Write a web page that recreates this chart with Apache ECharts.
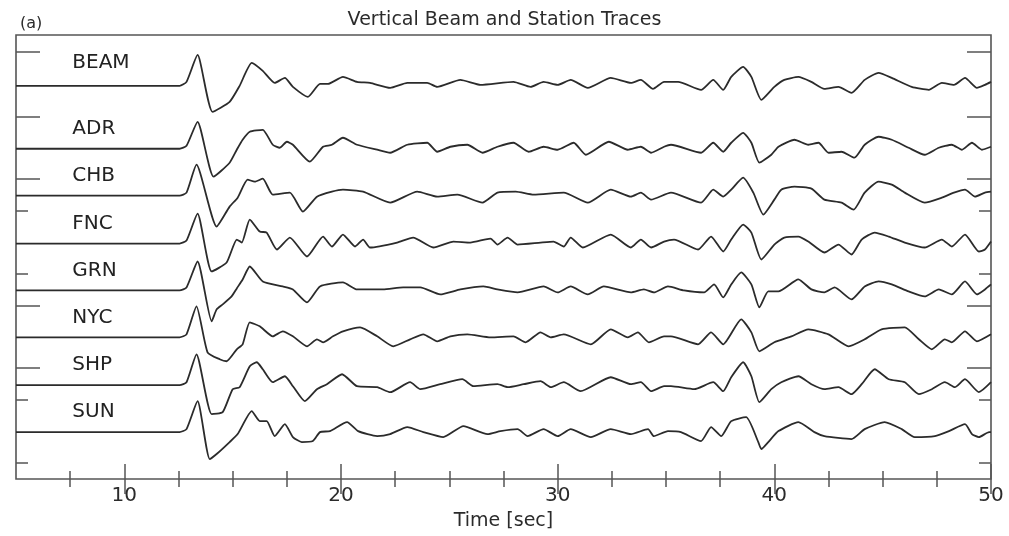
<!DOCTYPE html>
<html>
<head>
<meta charset="utf-8">
<script src="https://cdn.jsdelivr.net/npm/echarts@6/dist/echarts.min.js"></script>
<style>html,body{margin:0;padding:0;background:#fff;}#c{width:1009px;height:536px;}</style>
</head>
<body>
<div id="c"></div>
<script>
// ---- Data (time [sec], relative amplitude) ----
const stations = ['BEAM', 'ADR', 'CHB', 'FNC', 'GRN', 'NYC', 'SHP', 'SUN'];
const traceOffsets = [394, 331, 284, 236, 189, 142, 94, 47];
const xMajorTicks = [10, 20, 30, 40, 50];
const xMinorTicks = [7.5, 12.5, 15, 17.5, 22.5, 25, 27.5, 32.5, 35, 37.5, 42.5, 45, 47.5];
const yLongTicks = [428.5, 363.5, 300.5, 174, 111];
const yShortTicks = [268.5, 205.5, 79, 16];

const BEAM = [[5,0],[12.55,0],[12.87,4],[13.38,31],[14.07,-26],[14.86,-16],[15.32,0],[15.88,23],[16.39,15],[16.94,3],[17.41,8],[17.78,-1],[18.47,-11],[19.03,2],[19.4,2],[20.09,9],[20.74,4],[21.34,3],[22.27,-2],[23.06,3],[23.98,3],[24.44,-1],[25.51,6],[26.44,1],[27.96,4],[28.75,-1],[29.35,4],[30.0,1],[30.6,6],[31.39,-2],[32.45,8],[33.38,3],[33.84,6],[34.4,-3],[34.91,4],[35.56,4],[36.62,-4],[37.18,6],[37.64,-4],[38.01,9],[38.56,19],[38.94,9],[39.4,-14],[40.0,-1],[40.46,6],[41.11,9],[41.71,4],[42.31,-3],[42.96,-1],[43.56,-7],[44.17,6],[44.81,13],[45.42,8],[46.34,-1],[47.13,-4],[47.73,3],[48.29,1],[48.8,8],[49.35,-2],[49.72,1],[50,4]];
const ADR = [[5,0],[12.55,0],[12.87,3],[13.38,27],[14.12,-28],[14.86,-14],[15.19,-1],[15.46,9],[15.79,17],[16.39,19],[16.85,4],[17.18,1],[17.5,7],[17.78,4],[18.56,-13],[19.17,2],[19.58,4],[20.09,11],[20.74,4],[21.67,-1],[22.27,-4],[23.06,4],[23.98,6],[24.44,-3],[25.05,2],[25.83,4],[26.53,-4],[27.22,2],[27.96,6],[28.66,-3],[29.35,2],[30.0,-1],[30.74,6],[31.3,-6],[32.36,7],[33.24,-1],[33.84,2],[34.31,-4],[34.91,2],[35.23,4],[36.62,-4],[37.18,6],[37.64,-3],[38.01,6],[38.56,16],[38.94,6],[39.31,-14],[39.86,-6],[40.19,2],[40.93,9],[41.57,4],[42.04,6],[42.5,-4],[43.1,-3],[43.7,-9],[44.17,4],[44.81,12],[45.42,9],[46.2,1],[46.94,-6],[47.59,1],[48.19,4],[48.66,-1],[49.12,6],[49.58,-1],[50,2]];
const CHB = [[5,0],[12.55,0],[12.87,3],[13.33,31],[14.26,-31],[14.86,-11],[15.23,-2],[15.69,16],[16.02,14],[16.39,17],[16.85,1],[17.64,3],[18.24,-16],[18.89,-1],[19.58,4],[20.09,6],[21.02,4],[22.27,-7],[23.52,4],[24.44,-1],[25.37,1],[26.53,-7],[27.22,3],[28.06,4],[28.89,1],[30.28,3],[31.39,-7],[32.45,6],[33.38,-1],[33.84,3],[34.31,-4],[35.23,3],[36.62,-7],[37.18,6],[37.64,-1],[38.01,6],[38.56,18],[39.03,3],[39.49,-19],[40.0,-4],[40.32,6],[40.93,9],[41.71,7],[42.31,-4],[43.1,-7],[43.66,-14],[44.17,3],[44.81,14],[45.42,11],[46.02,3],[46.94,-7],[47.73,-2],[48.29,3],[48.8,6],[49.26,-1],[49.72,3],[50,4]];
const FNC = [[5,0],[12.55,0],[12.87,3],[13.38,30],[14.03,-28],[14.72,-19],[15.19,4],[15.42,1],[15.79,24],[16.25,12],[16.57,11],[17.04,-6],[17.64,6],[18.43,-13],[19.17,7],[19.58,-3],[20.09,9],[20.65,-3],[21.02,4],[21.34,-4],[22.59,1],[23.33,6],[24.26,-4],[25.19,2],[25.97,1],[26.9,5],[27.22,-1],[27.69,6],[28.15,-1],[29.21,1],[29.81,2],[30.28,-3],[30.6,6],[31.16,-4],[32.45,9],[33.38,-4],[33.84,4],[34.31,-4],[34.91,2],[35.37,4],[36.48,-6],[37.08,7],[37.64,-8],[38.01,4],[38.56,19],[38.94,11],[39.4,-16],[40.0,-1],[40.46,6],[41.11,7],[41.57,2],[42.31,-9],[42.96,-1],[43.56,-11],[44.03,4],[44.63,11],[45.28,7],[46.02,1],[46.94,-4],[47.73,4],[48.19,-3],[48.8,9],[49.44,-8],[49.72,-6],[50,2]];
const GRN = [[5,0],[12.55,0],[12.87,3],[13.38,29],[14.03,-31],[14.26,-19],[14.54,-14],[14.95,-6],[15.19,2],[15.46,11],[15.79,24],[16.39,9],[17.31,4],[17.78,1],[18.43,-12],[19.03,4],[20.09,8],[20.74,1],[21.94,1],[22.87,3],[23.66,3],[24.58,-4],[25.51,1],[26.57,4],[27.22,1],[28.15,-2],[29.35,4],[30.0,-2],[30.6,4],[31.39,-4],[32.13,4],[33.38,-2],[33.98,1],[34.44,-2],[35.09,4],[35.83,0],[36.76,-2],[37.22,6],[37.64,-7],[38.01,6],[38.47,18],[38.94,6],[39.31,-17],[39.72,-1],[40.19,-1],[41.11,11],[41.71,1],[42.31,-2],[42.78,3],[43.56,-9],[44.17,4],[44.81,9],[45.42,6],[46.2,-1],[46.94,-6],[47.59,1],[48.19,-4],[48.8,9],[49.35,-4],[49.72,1],[50,6]];
const NYC = [[5,0],[12.55,0],[12.87,3],[13.33,31],[13.84,-15],[14.4,-22],[14.72,-24],[15.19,-12],[15.46,-7],[15.79,15],[16.25,11],[16.85,1],[17.31,6],[17.78,1],[18.43,-9],[18.89,-2],[19.17,-5],[19.63,1],[20.09,6],[20.88,10],[21.67,1],[22.41,-9],[23.19,-2],[23.8,3],[24.44,-4],[25.05,1],[25.83,3],[26.9,0],[27.96,1],[28.52,-5],[29.21,5],[29.68,0],[30.28,3],[31.53,-7],[32.45,8],[33.24,0],[33.7,5],[34.21,-5],[34.91,1],[35.23,1],[36.48,-7],[37.08,5],[37.64,-7],[38.47,18],[38.94,5],[39.31,-14],[40.0,-5],[40.79,1],[41.57,8],[42.5,3],[43.43,-9],[44.17,-2],[44.95,8],[46.02,10],[46.67,-2],[47.27,-12],[47.87,-2],[48.19,-5],[48.8,6],[49.35,-4],[50,3]];
const SHP = [[5,0],[12.55,0],[12.87,3],[13.33,31],[14.03,-29],[14.54,-27],[15.0,-4],[15.32,-2],[15.79,19],[16.11,23],[16.39,16],[16.85,3],[17.41,9],[17.78,-1],[18.33,-16],[18.89,-4],[19.35,1],[20.05,11],[20.74,-1],[21.67,-2],[22.27,-7],[23.19,3],[23.66,-4],[24.58,1],[25.6,6],[26.11,-1],[27.22,1],[27.69,-2],[28.43,1],[29.21,4],[29.68,-2],[30.28,3],[31.06,-6],[32.45,8],[33.38,1],[33.84,3],[34.31,-6],[34.91,-1],[35.23,-1],[36.3,-4],[37.18,3],[37.64,-6],[38.01,8],[38.56,23],[38.94,9],[39.31,-17],[39.86,-4],[40.32,3],[41.11,9],[41.71,1],[42.31,-4],[42.96,-2],[43.56,-9],[44.03,1],[44.63,16],[45.28,6],[46.02,3],[46.67,-9],[47.27,-4],[47.87,3],[48.33,-2],[48.8,6],[49.44,-7],[50,3]];
const SUN = [[5,0],[12.55,0],[12.87,3],[13.38,31],[13.94,-27],[14.26,-22],[14.86,-10],[15.23,-2],[15.88,21],[16.25,11],[16.57,11],[16.94,-4],[17.41,8],[17.78,-5],[18.19,-10],[18.7,-9],[19.03,0],[19.49,1],[20.28,10],[20.79,1],[21.67,-4],[22.27,-2],[23.06,5],[23.8,0],[24.72,-5],[25.65,6],[26.76,-2],[27.36,1],[28.15,3],[28.61,-4],[29.35,3],[30.0,-4],[30.6,3],[31.53,-5],[32.45,3],[33.38,-2],[34.17,3],[34.44,-4],[35.09,1],[35.69,0],[36.62,-9],[37.08,5],[37.55,-4],[38.01,11],[38.7,15],[39.26,-10],[39.4,-17],[39.72,-10],[40.19,1],[41.11,10],[41.85,0],[42.31,-4],[43.56,-7],[44.17,3],[45.09,10],[45.88,3],[46.48,-5],[47.41,-4],[48.06,1],[48.8,8],[49.12,-2],[49.44,-5],[49.91,0],[50,0]];
const traces = [BEAM, ADR, CHB, FNC, GRN, NYC, SHP, SUN];
const labelTime = 7.6;
// -----------------------------------------------

const FONT = 'DejaVu Sans';
const INK = '#2b2b2b';
const AX = '#555';

const lineSeries = traces.map((tr, i) => ({
  type: 'line',
  name: stations[i],
  xAxisIndex: 0, yAxisIndex: 0,
  showSymbol: false,
  symbol: 'none',
  smooth: 0.18,
  lineStyle: { color: INK, width: 1.8 },
  data: tr.map(([t, a]) => [t, a + traceOffsets[i]]),
  silent: true,
  animation: false
}));

const labelSeries = {
  type: 'scatter',
  xAxisIndex: 0, yAxisIndex: 0,
  symbolSize: 0,
  silent: true,
  animation: false,
  itemStyle: { color: INK, opacity: 1 },
  label: {
    show: true, position: [0, 0], align: 'left', verticalAlign: 'middle',
    formatter: p => p.name, fontFamily: FONT, fontSize: 20, color: '#222', opacity: 1
  },
  data: stations.map((s, i) => ({ name: s, value: [labelTime, traceOffsets[i] + (i === 0 ? 23 : 20)] }))
};

function xAx(pos, ticks, len, labels, extra) {
  return Object.assign({
    type: 'value', position: pos, gridIndex: 0, min: 5, max: 50, interval: 2.5,
    axisLine: { show: false },
    splitLine: { show: false },
    axisTick: { show: true, inside: true, length: len, customValues: ticks, lineStyle: { color: AX, width: 1.5 } },
    axisLabel: labels ? { show: true, customValues: xMajorTicks, fontFamily: FONT, fontSize: 20, color: INK, margin: 7 } : { show: false }
  }, extra || {});
}
function yAx(pos, ticks, len) {
  return {
    type: 'value', position: pos, gridIndex: 0, min: 0, max: 445,
    axisLine: { show: false }, splitLine: { show: false }, axisLabel: { show: false },
    axisTick: { show: true, inside: true, length: len, customValues: ticks, lineStyle: { color: AX, width: 1.5 } }
  };
}

const chart = echarts.init(document.getElementById('c'), null, { renderer: 'canvas' });
chart.setOption({
  animation: false,
  backgroundColor: '#fff',
  title: [
    { text: 'Vertical Beam and Station Traces', left: 'center', top: 6,
      textStyle: { fontFamily: FONT, fontSize: 19, fontWeight: 'normal', color: INK } },
    { text: '(a)', left: 15, top: 11,
      textStyle: { fontFamily: FONT, fontSize: 16, fontWeight: 'normal', color: INK } }
  ],
  grid: { left: 16, top: 35, width: 975, height: 445, show: true, borderColor: AX, borderWidth: 1.6, backgroundColor: 'transparent' },
  xAxis: [
    xAx('bottom', xMajorTicks, 15, true, { name: 'Time [sec]', nameLocation: 'middle', nameGap: 33,
      nameTextStyle: { fontFamily: FONT, fontSize: 19, color: INK } }),
    xAx('bottom', xMinorTicks, 8, false),
    xAx('top', xMajorTicks, 15, false),
    xAx('top', xMinorTicks, 8, false)
  ],
  yAxis: [
    yAx('left', yLongTicks, 24),
    yAx('left', yShortTicks, 12),
    yAx('right', yLongTicks, 24),
    yAx('right', yShortTicks, 12)
  ],
  series: lineSeries.concat([labelSeries])
});
</script>
</body>
</html>
